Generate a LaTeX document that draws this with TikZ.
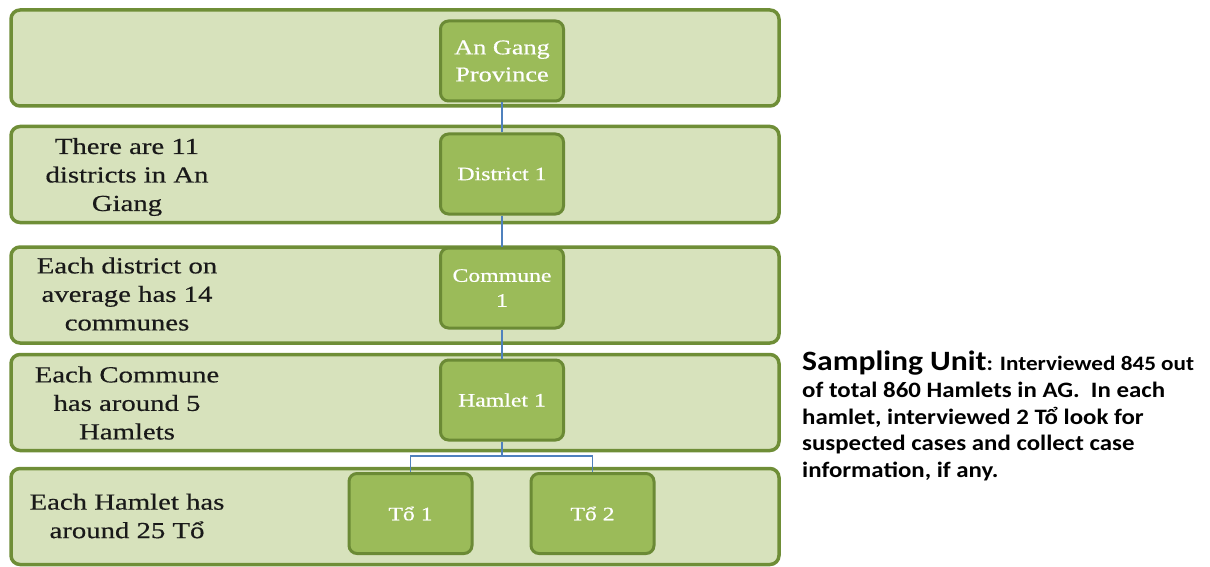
\documentclass[tikz,border=0pt]{standalone}
\usepackage{fontspec}
\setmainfont[FakeStretch=1.25,FakeBold=0.5]{Liberation Serif}
\newfontfamily\calib[FakeStretch=1.13]{Carlito}
\definecolor{bandfill}{HTML}{D7E2BC}
\definecolor{bandline}{HTML}{6F8E37}
\definecolor{boxfill}{HTML}{9BBB59}
\definecolor{boxline}{HTML}{6B8A35}
\definecolor{conn}{HTML}{4F81BD}
\begin{document}
\begin{tikzpicture}[x=1pt,y=-1pt,
  band/.style={draw=bandline, fill=bandfill, line width=3.5pt, rounded corners=9pt, minimum width=768pt, minimum height=96pt, inner sep=0pt},
  ibox/.style={draw=boxline, fill=boxfill, line width=3pt, rounded corners=8pt, minimum width=123pt, minimum height=80pt, inner sep=0pt, text=white, align=center, font=\fontsize{19}{25}\selectfont},
  lbl/.style={align=center, text=black!90, font=\fontsize{23}{28.5}\selectfont, inner sep=0pt},
  link/.style={draw=conn, line width=1.8pt}]
\useasboundingbox (0,0) rectangle (1210,567);
\node[band] (b1) at (395,58) {};
\node[band] (b2) at (395,174.5) {};
\node[band] (b3) at (395,295) {};
\node[band] (b4) at (395,402.5) {};
\node[band] (b5) at (395,516.5) {};
\node[lbl] (t2) at (127,177) {There are 11\\districts in An\\Giang};
\node[lbl] (t3) at (127,294) {Each district on\\average has 14\\communes};
\node[lbl] (t4) at (127,403) {Each Commune\\has around 5\\Hamlets};
\node[lbl] (t5) at (127,516) {Each Hamlet has\\around 25 Tổ};
\node[ibox, font=\fontsize{21}{27}\selectfont] (p) at (502,61) {An Gang\\Province};
\node[ibox] (d) at (502,174) {District 1};
\node[ibox] (c) at (502,288) {Commune\\1};
\node[ibox] (h) at (502,400) {Hamlet 1};
\node[ibox] (to1) at (410.5,513.5) {Tổ 1};
\node[ibox] (to2) at (592.5,513.5) {Tổ 2};
\draw[link] (p.south) -- (d.north);
\draw[link] (d.south) -- (c.north);
\draw[link] (c.south) -- (h.north);
\coordinate (m) at (502,456);
\draw[link] (h.south) -- (m);
\draw[link] (to1.north) |- (m) -| (to2.north);
\node[anchor=north west, align=left, inner sep=0pt, font=\calib\bfseries\fontsize{22}{26.7}\selectfont] (note) at (802,351)
 {{\fontsize{28}{26.7}\selectfont Sampling Unit}{\fontsize{20.5}{26.7}\selectfont: Interviewed 845 out}\\
  of total 860 Hamlets in AG.\ \ In each\\
  hamlet, interviewed 2 Tổ look for\\
  suspected cases and collect case\\
  information, if any.};
\end{tikzpicture}
\end{document}
